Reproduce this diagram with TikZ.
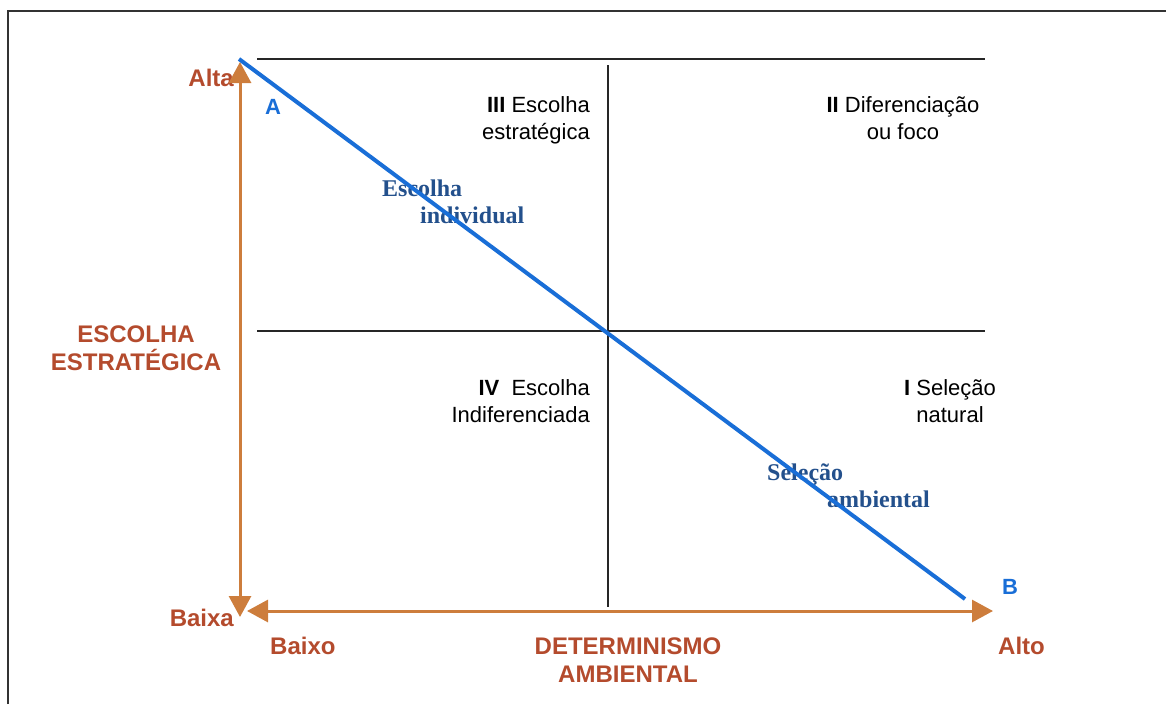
\documentclass[tikz,border=0pt]{standalone}
\usepackage{fontspec}
\setmainfont{Liberation Serif}
\setsansfont{Liberation Sans}
\usetikzlibrary{positioning}
\usetikzlibrary{arrows.meta}

\begin{document}
\begin{tikzpicture}[
        x=1pt, y=-1pt,
        every node/.style={inner sep=0pt, font=\sffamily\fontsize{22}{27}\selectfont},
        axis/.style={draw=axisorange, line width=3pt,
            {Triangle[length=21pt,width=22pt]}-{Triangle[length=21pt,width=22pt]}},
        grid/.style={draw=black!85, line width=1.5pt},
        axislabel/.style={text=labelrust, font=\sffamily\bfseries\fontsize{24}{28}\selectfont},
        curvelabel/.style={text=textblue, font=\rmfamily\bfseries\fontsize{24}{27}\selectfont},
        endlabel/.style={text=lineblue, font=\sffamily\bfseries\fontsize{22}{26}\selectfont},
    ]
        % Color palette
        \definecolor{axisorange}{RGB}{205,125,60}
        \definecolor{labelrust}{RGB}{180,75,45}
        \definecolor{lineblue}{RGB}{25,110,215}
        \definecolor{textblue}{RGB}{35,80,140}
        \useasboundingbox (0,0) rectangle (1166,704);

        % Frame
        \draw[black!80, line width=1.2pt] (8,704) -- (8,11) -- (1166,11);

        % Grid points
        \coordinate (gTL) at (257,59);
        \coordinate (gTR) at (985,59);
        \coordinate (gML) at (257,331);
        \coordinate (gMR) at (985,331);
        \coordinate (gVT) at (608,65);
        \coordinate (gVB) at (608,607);

        % Axis tips
        \coordinate (yTop) at (240,62);
        \coordinate (yBot) at (240,617);
        \coordinate (xLeft) at (247,611);
        \coordinate (xRight) at (993,611);

        % Diagonal ends
        \coordinate (pA) at (239,59);
        \coordinate (pB) at (965,599);

        % Quadrants
        \node[align=right, anchor=base east] (quadIII) at (590,139) {\textbf{III} Escolha\\estratégica};
        \node[align=center, anchor=base] (quadII) at (903,139) {\textbf{II} Diferenciação\\ou foco};
        \node[align=right, anchor=base east] (quadIV) at (590,422) {\textbf{IV}\ \ Escolha\\Indiferenciada};
        \node[align=center, anchor=base] (quadI) at (950,422) {\textbf{I} Seleção\\natural};

        % Axis labels
        \node[axislabel, anchor=base east] (alta) at (234,86) {Alta};
        \node[axislabel, anchor=base east] (baixa) at (234,626) {Baixa};
        \node[axislabel, anchor=base west] (baixo) at (270,654) {Baixo};
        \node[axislabel, anchor=base west] (alto) at (998,654) {Alto};
        \node[axislabel, align=center, anchor=base] (escolha) at (136,370) {ESCOLHA\\ESTRATÉGICA};
        \node[axislabel, align=center, anchor=base] (determinismo) at (628,682) {DETERMINISMO\\AMBIENTAL};

        % Diagonal labels
        \node[endlabel, anchor=base west] (A) at (265,114) {A};
        \node[endlabel, anchor=base west] (B) at (1002,594) {B};
        \node[curvelabel, align=left, anchor=base west] (individual) at (382,223) {Escolha\\\hspace*{38pt}individual};
        \node[curvelabel, align=left, anchor=base west] (ambiental) at (767,507) {Seleção\\\hspace*{60pt}ambiental};

        % Lines
        \draw[grid] (gTL) -- (gTR);
        \draw[grid] (gML) -- (gMR);
        \draw[grid] (gVT) -- (gVB);
        \draw[axis] (yBot) -- (yTop);
        \draw[axis] (xLeft) -- (xRight);
        \draw[lineblue, line width=4pt] (pA) -- (pB);

    \end{tikzpicture}
\end{document}
